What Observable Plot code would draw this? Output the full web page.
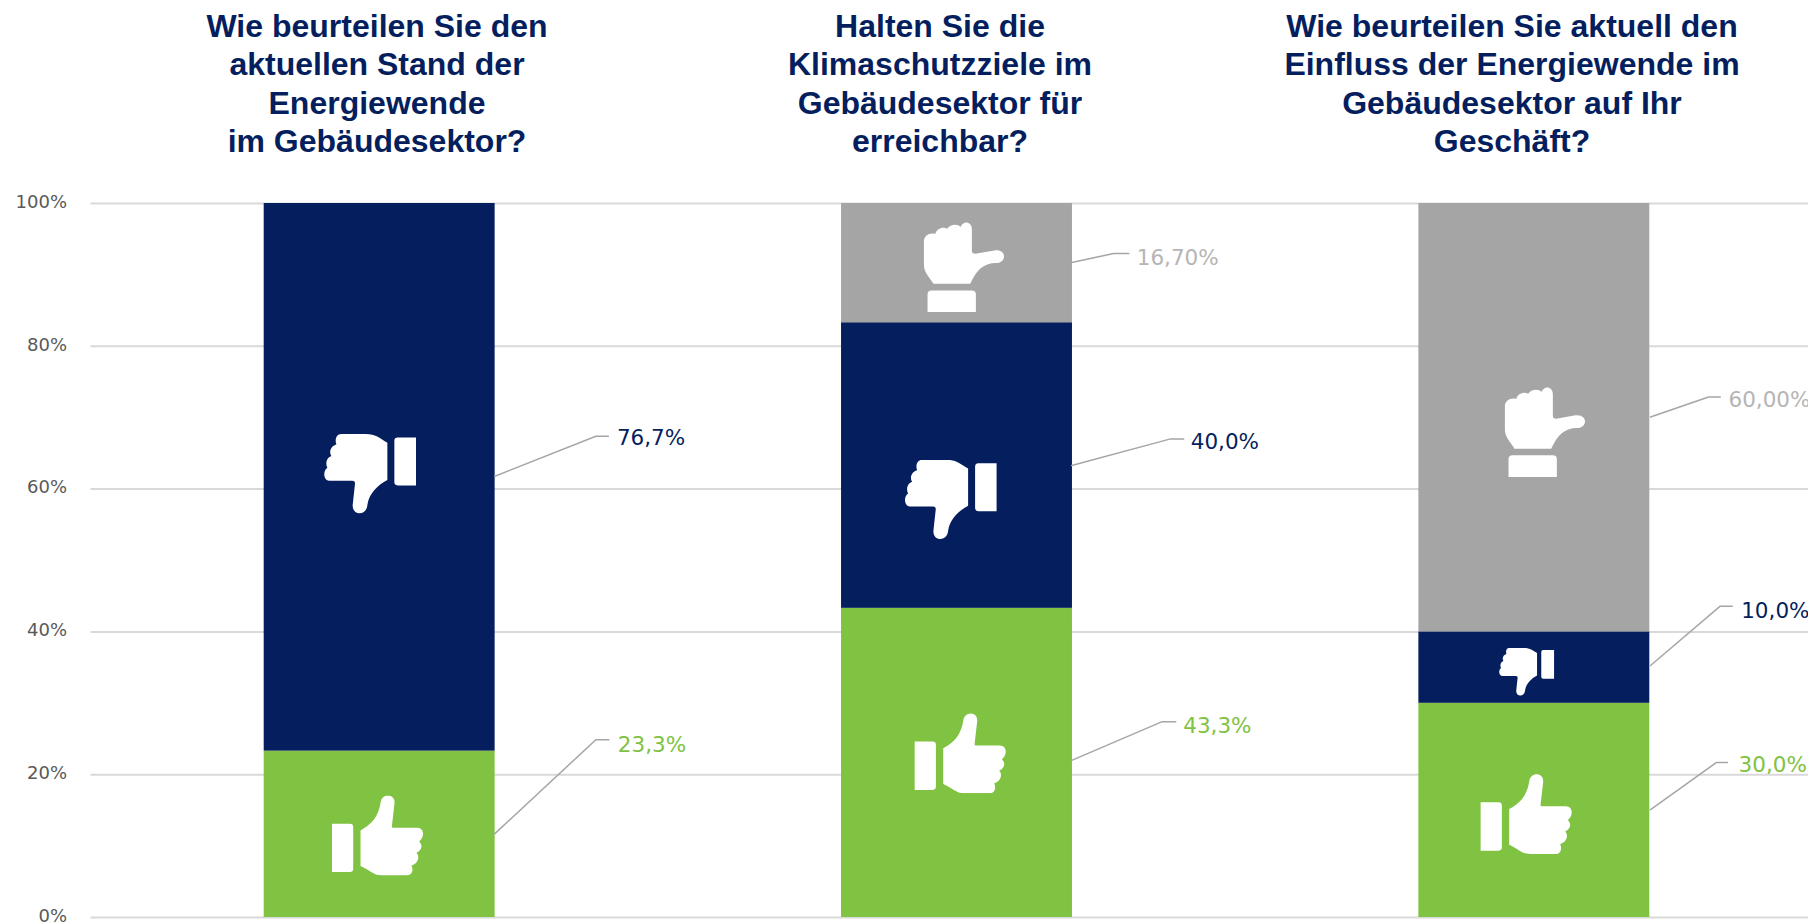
<!DOCTYPE html>
<html lang="de">
<head>
<meta charset="utf-8">
<script src="https://cdn.jsdelivr.net/npm/d3@7"></script>
<script src="https://cdn.jsdelivr.net/npm/@observablehq/plot@0.6"></script>
<style>
html,body{margin:0;padding:0;background:#fff;overflow:hidden}
#wrap{position:relative;width:1808px;height:922px}
.t{position:absolute;top:7px;width:600px;transform:translateX(-50%);text-align:center;font:bold 32px/38.3px "Liberation Sans",Arial,sans-serif;color:#051f5e}
#chart{position:absolute;left:0;top:170px}
#chart svg{display:block}
</style>
</head>
<body>
<div id="wrap"><div id="chart"></div></div>
<script>
// Data
const titles = [
  ["Wie beurteilen Sie den","aktuellen Stand der","Energiewende","im Gebäudesektor?"],
  ["Halten Sie die","Klimaschutzziele im","Gebäudesektor für","erreichbar?"],
  ["Wie beurteilen Sie aktuell den","Einfluss der Energiewende im","Gebäudesektor auf Ihr","Geschäft?"]
];
const titleCentres = [377, 940, 1512];
const categorySlots = [0.5, 1.5, 2.5];
const positive = [23.3, 43.3, 30];
const negative = [76.7, 40, 10];
const neutral  = [0, 16.7, 60];
const positiveLabels = ["23,3%", "43,3%", "30,0%"];
const negativeLabels = ["76,7%", "40,0%", "10,0%"];
const neutralLabels  = ["", "16,70%", "60,00%"];
const yTicks = [0, 20, 40, 60, 80, 100];

// Leader lines, in chart units [slot, percent]: bar edge, elbow, end, then label anchor
const leaderPositive = [
  [[0.6996,11.75],[0.8745,24.9],[0.897,24.9],[0.9126,24.2]],
  [[1.6987,22],[1.8545,27.4],[1.8788,27.4],[1.8918,26.85]],
  [[2.7013,15.1],[2.8151,21.7],[2.8346,21.7],[2.8537,21.3]]
];
const leaderNegative = [
  [[0.6996,61.8],[0.8745,67.4],[0.8961,67.4],[0.9109,67.1]],
  [[1.6987,63.3],[1.8684,67],[1.8926,67],[1.9048,66.6]],
  [[2.7013,35.3],[2.822,43.6],[2.8428,43.6],[2.8583,42.9]]
];
const leaderNeutral = [
  null,
  [[1.6987,91.75],[1.7714,93],[1.7974,93],[1.8113,92.4]],
  [[2.7013,70.1],[2.8017,72.9],[2.822,72.9],[2.8363,72.5]]
];

// Icon centres, [slot, percent]
const iconPositive = [[0.4963,11.5],[1.5056,23],[2.4859,14.5]];
const iconNegative = [[0.4833,62.1],[1.4892,58.5],[2.4867,34.4]];
const iconNeutral  = [null,[1.5125,91.1],[2.5188,68]];
const iconScale = {positive:[1,1,1], negative:[1,1,0.6], neutral:[0,1,1]};

const colors = {positive:"#80c241", negative:"#051f5e", neutral:"#a5a5a5"};
const labelColors = {positive:"#80c241", negative:"#051f5e", neutral:"#b5b5b5"};

// Icon artwork
const svgIcon = (vb, body) => "data:image/svg+xml," + encodeURIComponent(
  `<svg xmlns="http://www.w3.org/2000/svg" viewBox="${vb}"><g fill="#fff">${body}</g></svg>`);
const icons = {
  positive: {w:92,h:80,src:svgIcon("66 45 274 240",
    `<path d="M66 130H120Q130 130 130 140V265Q130 275 120 275H66Z"/>
     <path d="M152 150C185 132 205 110 212 68C214 38 256 38 254 68L246 138Q246 142 250 142H322C342 142 346 168 328 183C340 195 336 210 320 217C332 232 322 250 305 255C312 272 305 285 290 285H215C190 285 178 268 152 257Z"/>`)},
  negative: {w:92,h:80,src:svgIcon("70 72 276 240",
    `<path d="M346 82H291Q281 82 281 92V216Q281 226 291 226H346Z"/>
     <path d="M260 98C235 84 225 72 195 72H122C106 72 102 90 107 103C90 108 84 126 92 138C76 144 74 162 80 173C66 182 68 210 85 212H155Q163 212 163 220L156 285C154 318 198 318 200 285C205 250 232 225 260 210Z"/>`)},
  neutral: {w:82,h:90,src:svgIcon("133 63 242 270",
    `<path d="M133 122C133 104 150 94 167 99C172 82 190 76 203 83C212 68 236 68 243 78C250 58 277 60 277 85V150Q277 158 287 158L345 148C382 144 382 185 350 186C310 186 290 210 272 248H162C150 228 133 215 133 190Z"/>
     <path d="M144 333V280Q144 268 156 268H277Q289 268 289 280V333Z"/>`)}
};

// Table built from the arrays
const barHalf = 0.2;
const rows = [];
categorySlots.forEach((slot, i) => {
  let base = 0;
  [["positive",positive,positiveLabels,leaderPositive,iconPositive],
   ["negative",negative,negativeLabels,leaderNegative,iconNegative],
   ["neutral",neutral,neutralLabels,leaderNeutral,iconNeutral]].forEach(([key,vals,labs,lead,icon]) => {
    const v = vals[i];
    if (!v) return;
    rows.push({key, slot, y1:base, y2:base+v, label:labs[i], leader:lead[i], icon:icon[i], k:iconScale[key][i], id:key+i});
    base += v;
  });
});
const leaderPts = rows.flatMap(r => r.leader.slice(0,3).map(p => ({id:r.id, x:p[0], y:p[1]})));

// Titles (HTML above the SVG)
const wrap = document.getElementById("wrap");
titles.forEach((lines,i) => {
  const d = document.createElement("div");
  d.className = "t";
  d.style.left = titleCentres[i] + "px";
  d.innerHTML = lines.join("<br>");
  wrap.appendChild(d);
});

const plot = Plot.plot({
  width: 1808,
  height: 752,
  marginLeft: 90.5,
  marginRight: 0,
  marginTop: 33,
  marginBottom: 5,
  style: {background:"transparent", overflow:"hidden"},
  x: {domain:[0,3], range:[90.5,1822.5], axis:null},
  y: {domain:[0,100], label:null},
  marks: [
    Plot.ruleY(yTicks, {stroke:"#d9d9d9", strokeWidth:2}),
    Plot.axisY({ticks:yTicks, tickSize:0, tickPadding:24, tickFormat:d=>d+"%", label:null,
      fontSize:18, fontFamily:"DejaVu Sans", fill:"#595959", dy:-1.5}),
    Plot.rect(rows, {x1:d=>d.slot-barHalf, x2:d=>d.slot+barHalf, y1:"y1", y2:"y2", fill:d=>colors[d.key]}),
    Plot.line(leaderPts, {x:"x", y:"y", z:"id", stroke:"#a6a6a6", strokeWidth:1.5}),
    Plot.text(rows, {x:d=>d.leader[3][0], y:d=>d.leader[3][1], text:"label", fill:d=>labelColors[d.key],
      textAnchor:"start", lineAnchor:"middle", fontSize:21.5, fontFamily:"DejaVu Sans"}),
    Plot.image(rows, {x:d=>d.icon[0], y:d=>d.icon[1], src:d=>icons[d.key].src,
      width:d=>icons[d.key].w*d.k, height:d=>icons[d.key].h*d.k})
  ]
});
document.getElementById("chart").appendChild(plot);
</script>
</body>
</html>
